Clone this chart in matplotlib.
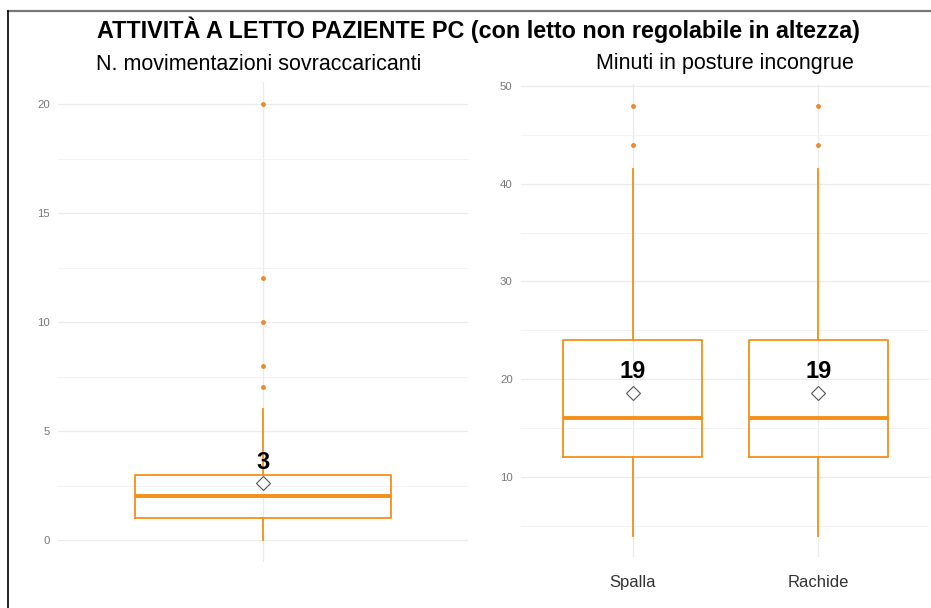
import matplotlib.pyplot as plt
from matplotlib.lines import Line2D

plt.rcParams["font.family"] = ["Liberation Sans", "DejaVu Sans"]

ORANGE = "#F39019"

# Pannello sinistro: N. movimentazioni sovraccaricanti
mov_q1 = 1
mov_med = 2
mov_q3 = 3
mov_whislo = 0
mov_whishi = 6
mov_mean = 2.6
mov_fliers = [7, 8, 10, 12, 20]

# Pannello destro: Minuti in posture incongrue
post_cats = ["Spalla", "Rachide"]
post_q1 = [12, 12]
post_med = [16, 16]
post_q3 = [24, 24]
post_whislo = [4, 4]
post_whishi = [41.5, 41.5]
post_mean = [18.6, 18.6]
post_fliers = [[44, 48], [44, 48]]

W, H = 931, 608
fig = plt.figure(figsize=(W / 100, H / 100), dpi=100)


def px_axes(x0, y0, x1, y1):
    return fig.add_axes([x0 / W, 1 - y1 / H, (x1 - x0) / W, (y1 - y0) / H])


def style(ax, major, minor):
    for s in ax.spines.values():
        s.set_visible(False)
    ax.set_yticks(major)
    ax.set_yticks(minor, minor=True)
    ax.grid(True, which="major", color="#ebebeb", lw=0.9, zorder=0)
    ax.grid(True, which="minor", axis="y", color="#f3f3f3", lw=0.7, zorder=0)
    ax.tick_params(length=0, which="both")
    ax.tick_params(axis="y", labelsize=8.2, labelcolor="#777777", pad=6)
    ax.set_axisbelow(True)


def draw(ax, stats, positions, means):
    ax.bxp(stats, positions=positions, widths=0.75, showfliers=True,
           showcaps=False, patch_artist=False,
           boxprops=dict(color=ORANGE, lw=1.3),
           whiskerprops=dict(color=ORANGE, lw=1.3),
           medianprops=dict(color=ORANGE, lw=2.8),
           flierprops=dict(marker="o", markersize=3.5, markerfacecolor="#E98B2A",
                           markeredgecolor="none"))
    ax.plot(positions, means, ls="none", marker="D", markersize=7.5,
            markerfacecolor="white", markeredgecolor="#555555", mew=0.8, zorder=5)
    for p, m in zip(positions, means):
        ax.annotate(f"{round(m)}", (p, m), xytext=(0, 7), textcoords="offset points",
                    ha="center", va="bottom", fontsize=17, fontweight="bold")


# sinistra
ax1 = px_axes(58, 82.2, 468, 561.8)
stats1 = [dict(q1=mov_q1, med=mov_med, q3=mov_q3, whislo=mov_whislo,
               whishi=mov_whishi, fliers=mov_fliers)]
style(ax1, [0, 5, 10, 15, 20], [2.5, 7.5, 12.5, 17.5])
draw(ax1, stats1, [1], [mov_mean])
ax1.set_xlim(0.4, 1.6)
ax1.set_ylim(-1, 21)
ax1.set_xticks([1])
ax1.set_xticklabels([""])

# destra
ax2 = px_axes(521, 84, 930, 557.2)
stats2 = [dict(q1=a, med=b, q3=c, whislo=d, whishi=e, fliers=f)
          for a, b, c, d, e, f in zip(post_q1, post_med, post_q3,
                                      post_whislo, post_whishi, post_fliers)]
pos2 = list(range(1, len(post_cats) + 1))
style(ax2, [10, 20, 30, 40, 50], [5, 15, 25, 35, 45])
draw(ax2, stats2, pos2, post_mean)
ax2.set_xlim(0.4, 2.6)
ax2.set_ylim(1.8, 50.2)
ax2.set_xticks(pos2)
ax2.set_xticklabels(post_cats, fontsize=12, color="#333333")
ax2.tick_params(axis="x", pad=13)

# titoli
fig.text(478 / W, 1 - 30 / H,
         "ATTIVITÀ A LETTO PAZIENTE PC (con letto non regolabile in altezza)",
         ha="center", va="center", fontsize=16.8, fontweight="bold")
fig.text(259 / W, 1 - 64 / H, "N. movimentazioni sovraccaricanti",
         ha="center", va="center", fontsize=15.5)
fig.text(725 / W, 1 - 64 / H, "Minuti in posture incongrue",
         ha="center", va="center", fontsize=15.5)

# cornice
fig.add_artist(Line2D([8 / W, 1], [1 - 11 / H, 1 - 11 / H], color="#777777", lw=1.6))
fig.add_artist(Line2D([8 / W, 8 / W], [1 - 11 / H, 0], color="black", lw=1.2))

fig.savefig("out.png", dpi=100)
